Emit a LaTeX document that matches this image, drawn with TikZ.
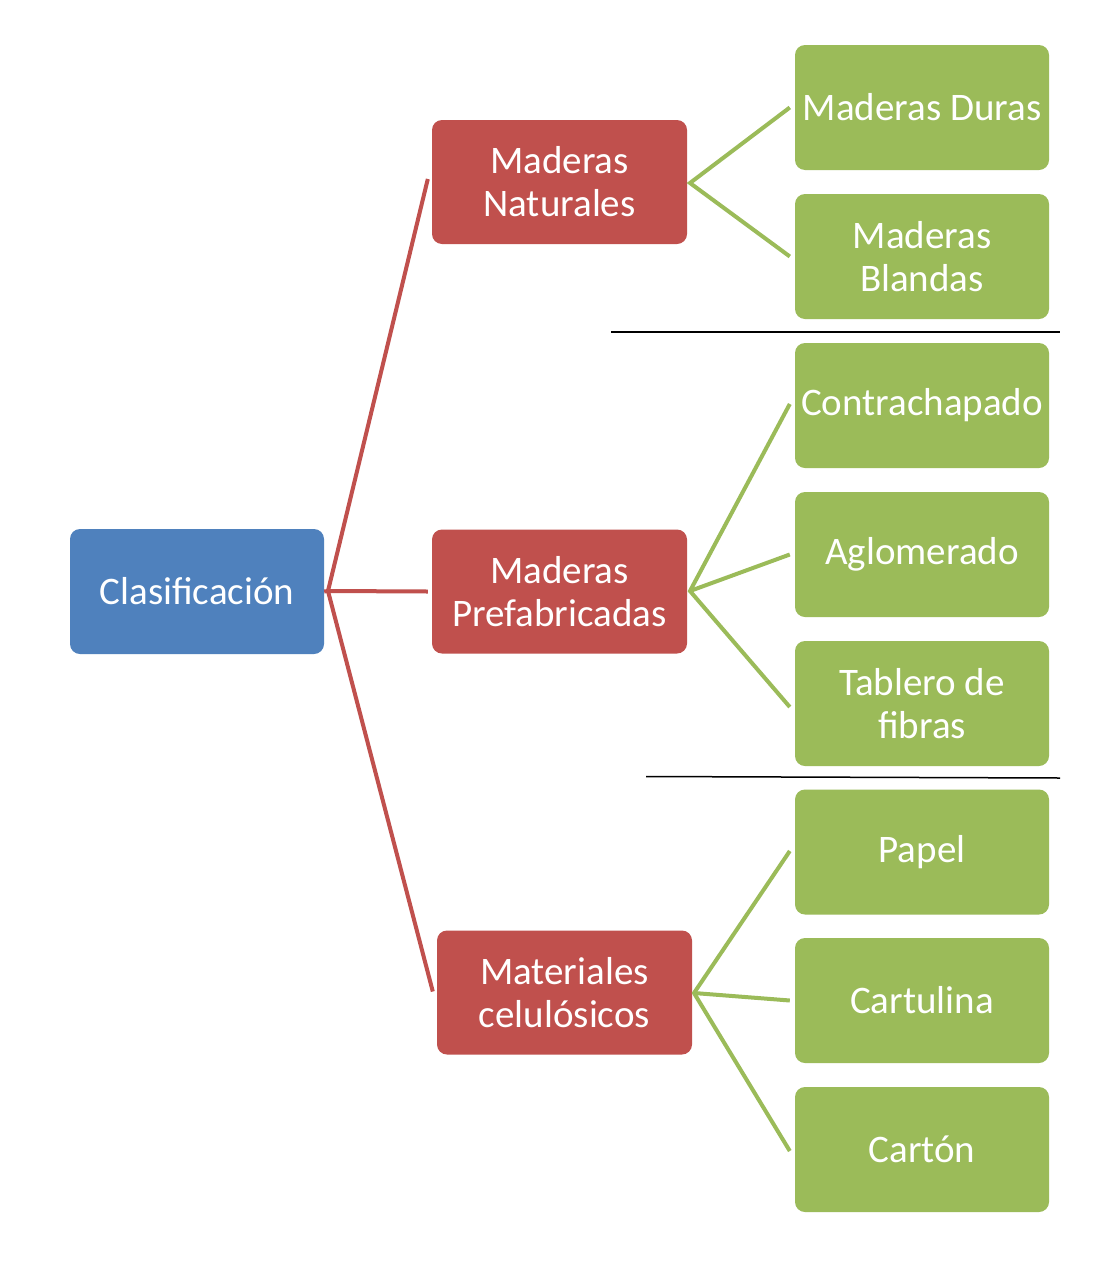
\documentclass[tikz,border=0pt]{standalone}
\usepackage{fontspec}
\setmainfont{Carlito}
\definecolor{cblue}{HTML}{4F81BD}
\definecolor{cred}{HTML}{C0504D}
\definecolor{cgreen}{HTML}{9BBB59}
\begin{document}
\begin{tikzpicture}[x=1pt,y=-1pt,
  box/.style={rectangle,rounded corners=10pt,text=white,align=center,
    font=\fontsize{39}{43}\selectfont,inner sep=0pt},
  bluebox/.style={box,fill=cblue,minimum width=254pt,minimum height=125pt},
  redbox/.style={box,fill=cred,minimum width=255pt,minimum height=124pt},
  greenbox/.style={box,fill=cgreen,minimum width=254pt,minimum height=125pt},
  redline/.style={draw=cred,line width=4pt},
  greenline/.style={draw=cgreen,line width=4pt},
  sepline/.style={draw=black,line width=1.5pt}]
\useasboundingbox (0,0) rectangle (1097,1277);
\fill[white] (0,0) rectangle (1097,1277);
% root
\node[bluebox] (clas) at (197,591.5) {Clasificación};
% level 1
\node[redbox] (mn) at (559.5,182) {Maderas\\Naturales};
\node[redbox] (mp) at (559.5,591.5) {Maderas\\Prefabricadas};
\node[redbox] (mc) at (564.5,992.5) {Materiales\\celulósicos};
% level 2
\node[greenbox] (dur) at (922,107.5) {Maderas Duras};
\node[greenbox] (bla) at (922,256.5) {Maderas\\Blandas};
\node[greenbox] (con) at (922,405.5) {Contrachapado};
\node[greenbox] (agl) at (922,554.5) {Aglomerado};
\node[greenbox] (tab) at (922,703.5) {Tablero de\\fibras};
\node[greenbox] (pap) at (922,852) {Papel};
\node[greenbox] (car) at (922,1000.5) {Cartulina};
\node[greenbox] (cton) at (922,1149.5) {Cartón};
% forks
\coordinate (f0) at (328,591);
\coordinate (f1) at (690,183);
\coordinate (f2) at (690,591);
\coordinate (f3) at (694,993);
\draw[redline] (clas.east) -- (f0);
\draw[redline,line join=miter] ([xshift=-4pt,yshift=3pt]mn.west) -- (f0) -- ([xshift=-4pt,yshift=1pt]mc.west);
\draw[redline] (f0) -- ([xshift=-4pt]mp.west);
\draw[greenline] ([xshift=-5pt]dur.west) -- (f1) -- ([xshift=-5pt]bla.west);
\draw[greenline] ([xshift=-5pt,yshift=1.5pt]con.west) -- (f2) -- ([xshift=-5pt,yshift=-3.5pt]tab.west);
\draw[greenline] (f2) -- ([xshift=-5pt]agl.west);
\draw[greenline] ([xshift=-5pt,yshift=1pt]pap.west) -- (f3) -- ([xshift=-5pt,yshift=-1.5pt]cton.west);
\draw[greenline] (f3) -- ([xshift=-5pt]car.west);
% separators
\coordinate (s1a) at (611,332);
\coordinate (s1b) at (1060,332);
\coordinate (s2a) at (646,776.5);
\coordinate (s2b) at (1060,778);
\draw[sepline] (s1a) -- (s1b);
\draw[sepline] (s2a) -- (s2b);
\end{tikzpicture}
\end{document}
